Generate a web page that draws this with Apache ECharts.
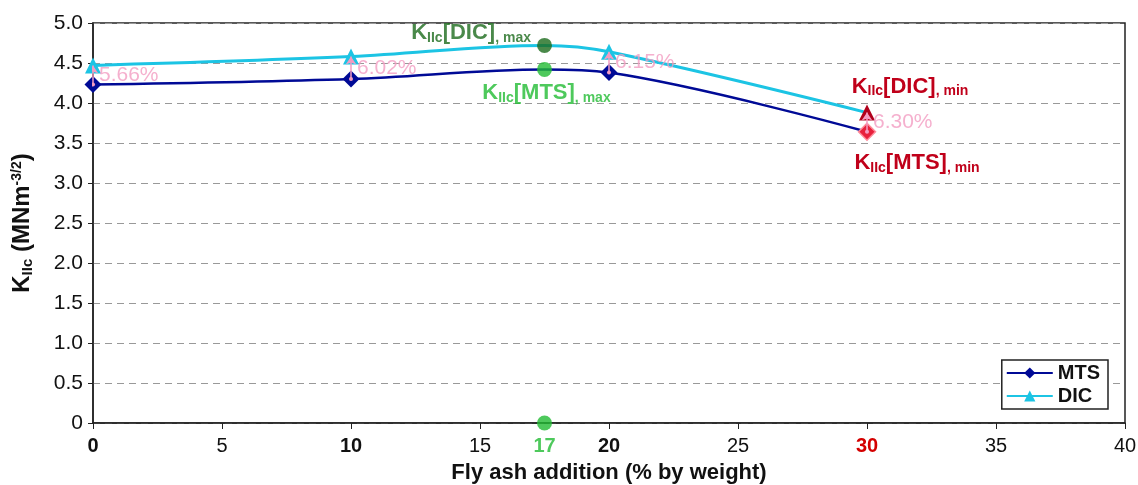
<!DOCTYPE html>
<html><head><meta charset="utf-8">
<script src="https://cdn.jsdelivr.net/npm/echarts@6/dist/echarts.min.js"></script>
<style>html,body{margin:0;padding:0;background:#fff}#c{width:1138px;height:485px}</style>
</head><body><div id="c"></div>
<script>
const xMeasured = [0, 10, 20, 30];
const mtsValues = [4.23, 4.30, 4.38, 3.64];
const dicValues = [4.47, 4.58, 4.64, 3.88];
const pctLabels = ['5.66%', '6.02%', '6.15%', '6.30%'];
const optimumX = 17.5;
const optimumLabel = '17';
const mtsMax = 4.42;
const dicMax = 4.72;

const FONT = '"Liberation Sans", Arial, sans-serif';
const C_MTS = '#000a96', C_DIC = '#1cc4e4', C_PINK = '#f39cc2';
const C_DGREEN = '#1d6b1d', C_GREEN = '#22bb33', C_RED = '#c0001a';

function withOpt(xs, ys, ox, oy) {
  const arr = xs.map((x, i) => ({ value: [x, ys[i]] }));
  arr.push({ value: [ox, oy], symbol: 'none' });
  arr.sort((a, b) => a.value[0] - b.value[0]);
  return arr;
}
function kRich(color) {
  return {
    k: { fontFamily: FONT, fontWeight: 'bold', fontSize: 22, color: color },
    s: { fontFamily: FONT, fontWeight: 'bold', fontSize: 14, color: color, verticalAlign: 'bottom', padding: [10, 0, 0, 0] }
  };
}

const mtsData = withOpt(xMeasured, mtsValues, optimumX, mtsMax);
const dicData = withOpt(xMeasured, dicValues, optimumX, dicMax);
mtsData[mtsData.length - 1].itemStyle = { color: '#e8203c', borderColor: '#ff8a9a', borderWidth: 1.5 };
mtsData[mtsData.length - 1].label = {
  show: true, position: 'bottom', distance: 10, offset: [50, 0],
  formatter: '{k|K}{s|IIc}{k|[MTS]}{s|, min}', rich: kRich(C_RED)
};
dicData[dicData.length - 1].itemStyle = { color: '#b0001c' };
dicData[dicData.length - 1].label = {
  show: true, position: 'top', distance: 6, offset: [43, 0],
  formatter: '{k|K}{s|IIc}{k|[DIC]}{s|, min}', rich: kRich(C_RED)
};

const arrows = xMeasured.map((x, i) => ({ coords: [[x, mtsValues[i]], [x, dicValues[i]]] }));
const pctPts = xMeasured.map((x, i) => ({ value: [x, (mtsValues[i] + dicValues[i]) / 2], label: { formatter: pctLabels[i] } }));

const chart = echarts.init(document.getElementById('c'));
chart.setOption({
  animation: false,
  textStyle: { fontFamily: FONT },
  grid: { left: 93, right: 13, top: 23, bottom: 62, outerBoundsMode: 'none', containLabel: false,
    show: true, borderColor: '#222', borderWidth: 1.5 },
  legend: {
    right: 30, top: 360, orient: 'vertical', itemGap: 3, itemWidth: 46, itemHeight: 14,
    padding: [3, 8, 3, 4], borderColor: '#222', borderWidth: 1.5, backgroundColor: '#fff',
    textStyle: { fontFamily: FONT, fontWeight: 'bold', fontSize: 20, color: '#111' },
    data: ['MTS', 'DIC']
  },
  xAxis: {
    type: 'value', min: 0, max: 40, interval: 5,
    name: 'Fly ash addition (% by weight)', nameLocation: 'middle', nameGap: 39,
    nameTextStyle: { fontFamily: FONT, fontWeight: 'bold', fontSize: 22, color: '#111' },
    axisLine: { lineStyle: { color: '#222', width: 1.5 } },
    axisTick: { show: true, length: 6, lineStyle: { color: '#222' } },
    splitLine: { show: false },
    axisLabel: {
      margin: 13, fontSize: 20, color: '#111', fontFamily: FONT,
      formatter: v => {
        if (v === 30) return '{r|30}';
        if (v === 0 || v === 10 || v === 20) return '{b|' + v + '}';
        return String(v);
      },
      rich: {
        b: { fontWeight: 'bold', fontSize: 20, color: '#111', fontFamily: FONT },
        r: { fontWeight: 'bold', fontSize: 20, color: '#d40000', fontFamily: FONT }
      }
    }
  },
  yAxis: {
    type: 'value', min: 0, max: 5, interval: 0.5,
    name: '{b|K}{s|IIc}{b| (MNm}{p|-3/2}{b|)}', nameLocation: 'middle', nameGap: 58, nameRotate: 90,
    nameTextStyle: {
      rich: {
        b: { fontFamily: FONT, fontWeight: 'bold', fontSize: 24, color: '#111' },
        s: { fontFamily: FONT, fontWeight: 'bold', fontSize: 15, color: '#111', verticalAlign: 'bottom', padding: [10, 0, 0, 0] },
        p: { fontFamily: FONT, fontWeight: 'bold', fontSize: 14, color: '#111', verticalAlign: 'top', padding: [0, 0, 10, 0] }
      }
    },
    axisLine: { show: true, lineStyle: { color: '#222', width: 1.5 } },
    axisTick: { show: true, length: 5, lineStyle: { color: '#222' } },
    splitLine: { show: true, lineStyle: { color: '#999', type: [7, 5], width: 1 } },
    axisLabel: { margin: 10, fontSize: 21, color: '#111', fontFamily: FONT, formatter: v => v === 0 ? '0' : v.toFixed(1) }
  },
  series: [
    {
      name: 'MTS', type: 'line', data: mtsData, smooth: 0.35, symbol: 'diamond', symbolSize: 17,
      lineStyle: { color: C_MTS, width: 2.5 }, itemStyle: { color: C_MTS }, z: 3
    },
    {
      name: 'DIC', type: 'line', data: dicData, smooth: 0.35, symbol: 'triangle', symbolSize: 16,
      lineStyle: { color: C_DIC, width: 3 }, itemStyle: { color: C_DIC }, z: 3
    },
    {
      type: 'lines', coordinateSystem: 'cartesian2d', data: arrows, z: 5,
      symbol: ['circle', 'arrow'], symbolSize: [4, 8],
      lineStyle: { color: C_PINK, width: 1.5, opacity: 1 }
    },
    {
      type: 'scatter', data: pctPts, symbolSize: 0, z: 6, silent: true,
      label: { show: true, position: 'right', distance: 6, fontSize: 21, color: C_PINK, fontFamily: FONT }
    },
    {
      type: 'scatter', z: 7, symbolSize: 15,
      data: [
        { value: [optimumX, dicMax], itemStyle: { color: C_DGREEN },
          label: { show: true, position: 'left', distance: 6, offset: [0, -12],
            formatter: '{k|K}{s|IIc}{k|[DIC]}{s|, max}', rich: kRich(C_DGREEN) } },
        { value: [optimumX, mtsMax], itemStyle: { color: C_GREEN },
          label: { show: true, position: 'bottom', distance: 4, offset: [2, 0],
            formatter: '{k|K}{s|IIc}{k|[MTS]}{s|, max}', rich: kRich(C_GREEN) } },
        { value: [optimumX, 0], itemStyle: { color: C_GREEN },
          label: { show: true, position: 'bottom', distance: 6, formatter: optimumLabel,
            fontFamily: FONT, fontWeight: 'bold', fontSize: 20, color: C_GREEN } }
      ]
    }
  ]
});
</script></body></html>
